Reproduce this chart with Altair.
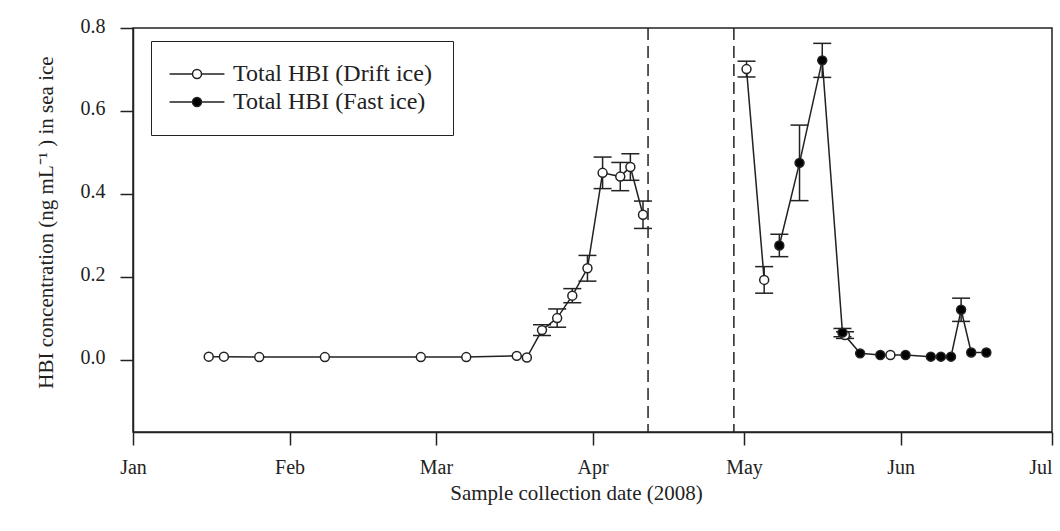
import altair as alt
import pandas as pd

drift_label = "Total HBI (Drift ice)"
fast_label = "Total HBI (Fast ice)"

drift_dates = ["2008-01-16", "2008-01-19", "2008-01-26", "2008-02-08", "2008-02-27",
               "2008-03-07", "2008-03-17", "2008-03-19", "2008-03-22", "2008-03-25",
               "2008-03-28", "2008-03-31", "2008-04-03", "2008-04-06 12:00", "2008-04-08 12:00",
               "2008-04-11", "2008-05-01 12:00", "2008-05-05", "2008-05-21", "2008-05-30"]
drift_values = [0.008, 0.008, 0.007, 0.007, 0.007, 0.007, 0.010, 0.006, 0.072, 0.101,
                0.155, 0.221, 0.451, 0.442, 0.465, 0.350, 0.701, 0.193, 0.060, 0.012]
drift_errors = [0, 0, 0, 0, 0, 0, 0, 0, 0.013, 0.022,
                0.017, 0.031, 0.038, 0.034, 0.032, 0.033, 0.019, 0.032, 0.008, 0]
drift_segments = [1] * 16 + [2, 2, 3, 4]

fast_dates = ["2008-05-08", "2008-05-12", "2008-05-16 12:00", "2008-05-20 12:00", "2008-05-24",
              "2008-05-28", "2008-06-02", "2008-06-07", "2008-06-09", "2008-06-11",
              "2008-06-13", "2008-06-15", "2008-06-18"]
fast_values = [0.276, 0.475, 0.722, 0.066, 0.016, 0.012, 0.012, 0.008, 0.008, 0.008,
               0.121, 0.018, 0.018]
fast_errors = [0.027, 0.091, 0.041, 0.010, 0, 0, 0, 0, 0, 0, 0.028, 0, 0]

gap_dates = ["2008-04-12", "2008-04-29"]

month_ticks = ["2008-01-01", "2008-02-01", "2008-03-01", "2008-04-01",
               "2008-05-01", "2008-06-01", "2008-07-01"]

df_d = pd.DataFrame({"date": pd.to_datetime(drift_dates, format="mixed"), "value": drift_values,
                     "err": drift_errors, "seg": [f"d{s}" for s in drift_segments],
                     "series": drift_label})
df_f = pd.DataFrame({"date": pd.to_datetime(fast_dates, format="mixed"), "value": fast_values,
                     "err": fast_errors, "seg": "f1", "series": fast_label})
df = pd.concat([df_d, df_f], ignore_index=True)
df["lo"] = df["value"] - df["err"]
df["hi"] = df["value"] + df["err"]
err_df = df[df["err"] > 0]

gap_df = pd.DataFrame({"date": pd.to_datetime(gap_dates)})

FONT = "Liberation Serif"
INK = "#222222"

xdom = [alt.DateTime(year=2008, month=1, date=1), alt.DateTime(year=2008, month=7, date=1)]
tick_vals = [alt.DateTime(year=int(d[:4]), month=int(d[5:7]), date=int(d[8:10])) for d in month_ticks]

x_enc = alt.X("date:T", scale=alt.Scale(domain=xdom, nice=False),
              axis=alt.Axis(values=tick_vals, format="%b", grid=False, tickSize=13,
                            labelPadding=12, labelFontSize=20, titleFontSize=21,
                            titlePadding=5, labelFlush=False,
                            labelAlign={"condition": {"test": "datum.value >= datetime(2008, 5, 15)",
                                                      "value": "right"},
                                        "value": "center"},
                            titleX=443, titleAlign="center"),
              title="Sample collection date (2008)")
y_enc = alt.Y("value:Q", scale=alt.Scale(domain=[-0.1735, 0.8], nice=False, zero=False),
              axis=alt.Axis(values=[0.0, 0.2, 0.4, 0.6, 0.8], format=".1f", grid=False,
                            tickSize=13, labelPadding=15, labelFontSize=20, labelOffset=-2,
                            titleFontSize=21, titlePadding=24, titleY=194,
                            titleAlign="center"),
              title="HBI concentration (ng mL\u207b\u00b9 ) in sea ice")

lines = alt.Chart(df).mark_line(color=INK, strokeWidth=1.5).encode(
    x=x_enc, y=y_enc, detail="seg:N")

err_rules = alt.Chart(err_df).mark_rule(color=INK, strokeWidth=1.5).encode(
    x="date:T", y="lo:Q", y2="hi:Q")
cap_hi = alt.Chart(err_df).mark_tick(orient="horizontal", size=18, thickness=1.5,
                                     color=INK, opacity=1).encode(x="date:T", y="hi:Q")
cap_lo = alt.Chart(err_df).mark_tick(orient="horizontal", size=18, thickness=1.5,
                                     color=INK, opacity=1).encode(x="date:T", y="lo:Q")

gap_rules = alt.Chart(gap_df).mark_rule(color=INK, strokeWidth=1.5, strokeDash=[12, 6]).encode(
    x="date:T")

legend_symbol = "M-6.1,0L-1,0M1,0L6.1,0M1,0A1,1,0,1,1,-1,0A1,1,0,1,1,1,0Z"

points = alt.Chart(df).mark_point(filled=True, size=80, stroke=INK, strokeWidth=1.5,
                                  opacity=1).encode(
    x="date:T", y="value:Q",
    fill=alt.Fill("series:N",
                  scale=alt.Scale(domain=[drift_label, fast_label], range=["white", "black"]),
                  legend=alt.Legend(title=None, orient="none", legendX=18, legendY=13,
                                    direction="vertical", symbolType=legend_symbol,
                                    symbolSize=81, symbolStrokeColor=INK,
                                    symbolStrokeWidth=1.5, symbolOpacity=1,
                                    symbolOffset=13, labelOffset=24, labelLimit=400,
                                    labelFont=FONT, labelFontSize=24, labelColor=INK,
                                    strokeColor=INK, fillColor="white", padding=21,
                                    rowPadding=4)))

chart = alt.layer(gap_rules, lines, err_rules, cap_hi, cap_lo, points).properties(
    width=919, height=404,
    autosize=alt.AutoSizeParams(type="none"),
    padding={"left": 133, "top": 28, "right": 8, "bottom": 99},
    background="white",
).configure_view(stroke=INK, strokeWidth=1.5).configure_axis(
    labelFont=FONT, titleFont=FONT, labelColor=INK, titleColor=INK,
    domainColor=INK, tickColor=INK, domainWidth=1.5, tickWidth=1.5,
    titleFontWeight="normal")

chart.save("out.html", embed_options={"renderer": "svg", "actions": False})
